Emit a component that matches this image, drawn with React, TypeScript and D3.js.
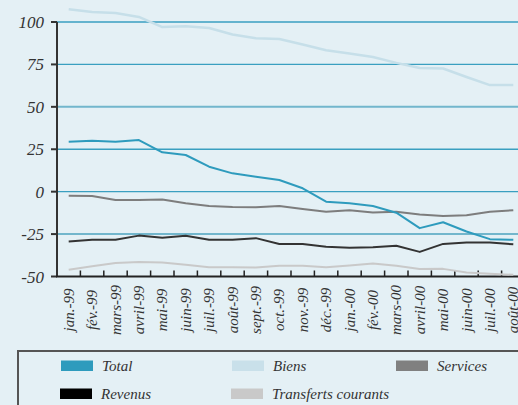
import React, { useEffect, useRef } from 'react';
import * as d3 from 'd3';

const months = [
  'jan.-99', 'fév.-99', 'mars-99', 'avril-99', 'mai-99', 'juin-99', 'juil.-99', 'août-99', 'sept.-99', 'oct.-99',
  'nov.-99', 'déc.-99', 'jan.-00', 'fév.-00', 'mars-00', 'avril-00', 'mai-00', 'juin-00', 'juil.-00', 'août-00',
];

const total = [29.4, 30, 29.4, 30.4, 23.2, 21.6, 14.7, 10.8, 8.8, 6.9, 2, -5.9, -6.8, -8.4, -12.4, -21.5, -18, -23.5, -28, -28.4];
const biens = [107.5, 105.9, 105.3, 103, 97, 97.5, 96.5, 92.6, 90.4, 90, 86.7, 83.4, 81.4, 79.4, 75.9, 72.9, 72.6, 67.6, 62.8, 62.8];
const services = [-2.4, -2.5, -4.9, -4.9, -4.6, -6.8, -8.4, -9, -9.2, -8.4, -10.2, -11.8, -11, -12.3, -11.9, -13.5, -14.3, -13.9, -11.9, -10.9];
const revenus = [-29.4, -28.4, -28.4, -25.9, -27.2, -26, -28.4, -28.4, -27.4, -30.9, -30.9, -32.5, -33.1, -32.7, -31.9, -35.5, -30.8, -30, -30, -31];
const transferts = [-46, -44, -42.1, -41.4, -41.8, -43.1, -44.5, -44.5, -44.7, -43.7, -43.7, -44.5, -43.5, -42.3, -43.7, -45.6, -45.5, -47.6, -48.4, -49];

const yTicks = [100, 75, 50, 25, 0, -25, -50];

const series = [
  { name: 'Biens', values: biens, color: '#c6dfe9', legend: '#c9e0ea', width: 2.5 },
  { name: 'Transferts courants', values: transferts, color: '#c9c9c9', legend: '#c9c9c9', width: 2 },
  { name: 'Revenus', values: revenus, color: '#333333', legend: '#000000', width: 2 },
  { name: 'Services', values: services, color: '#7d7d7d', legend: '#808080', width: 2 },
  { name: 'Total', values: total, color: '#2e9bbd', legend: '#2e9bbd', width: 2 },
];

const legendOrder = ['Total', 'Biens', 'Services', 'Revenus', 'Transferts courants'];

const App = () => {
  const ref = useRef<SVGSVGElement>(null);

  useEffect(() => {
    const W = 518, H = 405;
    const svg = d3.select(ref.current);
    svg.selectAll('*').remove();

    const font = "'Liberation Serif', 'DejaVu Serif', serif";

    svg.append('rect').attr('width', W).attr('height', H).attr('fill', '#e4f0f5');

    const x = d3.scaleBand().domain(months).range([57, 525]);
    const y = d3.scaleLinear().domain([-50, 100]).range([276.5, 22]);

    // grid lines
    svg.append('g')
      .selectAll('line')
      .data(yTicks.filter((d) => d !== -50))
      .enter()
      .append('line')
      .attr('x1', 57)
      .attr('x2', W)
      .attr('y1', (d) => y(d))
      .attr('y2', (d) => y(d))
      .attr('stroke', (d) => (d === 50 || d === -25 ? '#72b6cc' : '#3a9fc0'))
      .attr('stroke-width', (d) => (d === 50 || d === -25 ? 2 : 1.4));

    // y axis
    const yAxis = svg.append('g');
    yAxis.append('line')
      .attr('x1', 57).attr('x2', 57)
      .attr('y1', y(100)).attr('y2', y(-50))
      .attr('stroke', '#333').attr('stroke-width', 2);
    yAxis.selectAll('.tick')
      .data(yTicks)
      .enter()
      .append('line')
      .attr('x1', 51).attr('x2', 57)
      .attr('y1', (d) => y(d)).attr('y2', (d) => y(d))
      .attr('stroke', '#333').attr('stroke-width', 2);
    yAxis.selectAll('text')
      .data(yTicks)
      .enter()
      .append('text')
      .attr('x', 44)
      .attr('y', (d) => y(d) + 6)
      .attr('text-anchor', 'end')
      .style('font-family', font)
      .style('font-style', 'italic')
      .style('font-size', '17px')
      .attr('fill', '#333')
      .text((d) => String(d));

    // x axis
    const xAxis = svg.append('g');
    xAxis.append('line')
      .attr('x1', 56).attr('x2', W)
      .attr('y1', y(-50)).attr('y2', y(-50))
      .attr('stroke', '#222').attr('stroke-width', 2);
    xAxis.selectAll('.tick')
      .data(months.slice(1))
      .enter()
      .append('line')
      .attr('x1', (d) => x(d)!).attr('x2', (d) => x(d)!)
      .attr('y1', y(-50) - 6).attr('y2', y(-50))
      .attr('stroke', '#222').attr('stroke-width', 1.5);
    xAxis.selectAll('text')
      .data(months)
      .enter()
      .append('text')
      .attr('transform', (d) => `translate(${x(d)! + x.bandwidth() / 2 + 5},310) rotate(-90)`)
      .attr('text-anchor', 'middle')
      .style('font-family', font)
      .style('font-style', 'italic')
      .style('font-size', '15px')
      .attr('fill', '#333')
      .text((d) => d);

    // lines
    const line = d3.line<number>()
      .x((_, i) => x(months[i])! + x.bandwidth() / 2)
      .y((d) => y(d));

    svg.append('g')
      .selectAll('path')
      .data(series)
      .enter()
      .append('path')
      .attr('d', (d) => line(d.values))
      .attr('fill', 'none')
      .attr('stroke', (d) => d.color)
      .attr('stroke-width', (d) => d.width)
      .attr('stroke-linejoin', 'round');

    // legend box
    svg.append('path')
      .attr('d', `M18,${H + 5} L18,351 L${W + 5},351`)
      .attr('fill', 'none')
      .attr('stroke', '#555')
      .attr('stroke-width', 2);

    const legendPos = [
      { sx: 61, ty: 360.5 },
      { sx: 232, ty: 360.5 },
      { sx: 396, ty: 360.5 },
      { sx: 60, ty: 388.5 },
      { sx: 231, ty: 388.5 },
    ];
    const legend = svg.append('g');
    legendOrder.forEach((name, i) => {
      const s = series.find((d) => d.name === name)!;
      const p = legendPos[i];
      legend.append('rect')
        .attr('x', p.sx).attr('y', p.ty)
        .attr('width', 32).attr('height', 10.5)
        .attr('fill', s.legend);
      legend.append('text')
        .attr('x', p.sx + 41)
        .attr('y', p.ty + 10)
        .style('font-family', font)
        .style('font-style', 'italic')
        .style('font-size', '15px')
        .attr('fill', '#333')
        .text(name);
    });
  }, []);

  return (
    <svg ref={ref} width={518} height={405} style={{ position: 'absolute', left: 0, top: 0 }} />
  );
};

export default App;
